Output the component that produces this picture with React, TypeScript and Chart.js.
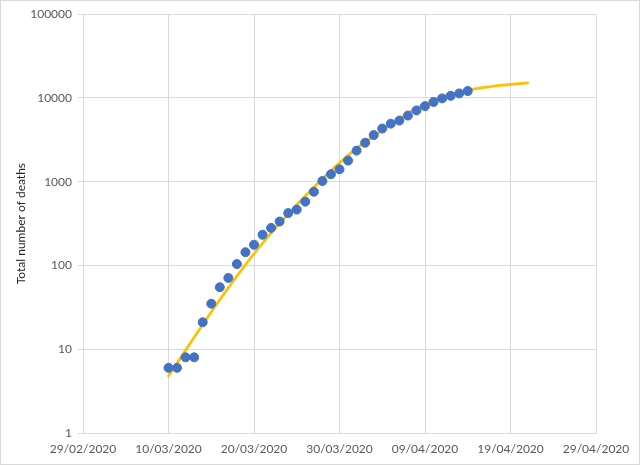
import React, { useEffect, useRef } from "react";
import { Chart, registerables } from "chart.js";

Chart.register(...registerables);

// Observed daily totals (10/03/2020 .. 14/04/2020)
const obsDates: string[] = [
  "10/03/2020", "11/03/2020", "12/03/2020", "13/03/2020", "14/03/2020", "15/03/2020",
  "16/03/2020", "17/03/2020", "18/03/2020", "19/03/2020", "20/03/2020", "21/03/2020",
  "22/03/2020", "23/03/2020", "24/03/2020", "25/03/2020", "26/03/2020", "27/03/2020",
  "28/03/2020", "29/03/2020", "30/03/2020", "31/03/2020", "01/04/2020", "02/04/2020",
  "03/04/2020", "04/04/2020", "05/04/2020", "06/04/2020", "07/04/2020", "08/04/2020",
  "09/04/2020", "10/04/2020", "11/04/2020", "12/04/2020", "13/04/2020", "14/04/2020",
];
const obsDeaths: number[] = [
  6, 6, 8, 8, 21, 35, 55, 71, 104, 144, 177, 233, 281, 335, 422, 465, 578, 759,
  1019, 1228, 1408, 1789, 2352, 2921, 3605, 4313, 4934, 5373, 6159, 7097, 7978,
  8958, 9875, 10612, 11329, 12107,
];

// Fitted curve
const fitDates: string[] = [
  "10/03/2020", "16/03/2020", "21/03/2020", "27/03/2020", "01/04/2020",
  "05/04/2020", "09/04/2020", "14/04/2020", "17/04/2020", "21/04/2020",
];
const fitValues: number[] = [4.8, 39, 185, 860, 2500, 4800, 8500, 12400, 13800, 15100];

const xTickLabels: string[] = [
  "29/02/2020", "10/03/2020", "20/03/2020", "30/03/2020", "09/04/2020", "19/04/2020", "29/04/2020",
];
const yTicks: number[] = [1, 10, 100, 1000, 10000, 100000];
const yTitle = "Total number of deaths";

const ORIGIN = Date.UTC(2020, 1, 29);
function dayOf(s: string): number {
  const [d, m, y] = s.split("/").map(Number);
  return Math.round((Date.UTC(y, m - 1, d) - ORIGIN) / 86400000);
}

export default function App() {
  const ref = useRef<HTMLCanvasElement | null>(null);

  useEffect(() => {
    document.body.style.margin = "0";
    const canvas = ref.current;
    if (!canvas) return;
    const tickFont = { family: "Lato, 'Liberation Sans', sans-serif", size: 12 };
    const chart = new Chart(canvas, {
      type: "scatter",
      data: {
        datasets: [
          {
            label: "Deaths",
            data: obsDates.map((d, i) => ({ x: dayOf(d), y: obsDeaths[i] })),
            backgroundColor: "#4472C4",
            borderColor: "#4472C4",
            borderWidth: 1,
            pointRadius: 4.5,
            showLine: false,
          },
          {
            label: "Fit",
            data: fitDates.map((d, i) => ({ x: dayOf(d), y: fitValues[i] })),
            borderColor: "#FFC000",
            backgroundColor: "#FFC000",
            borderWidth: 2.75,
            pointRadius: 0,
            showLine: true,
            cubicInterpolationMode: "monotone",
            borderCapStyle: "round",
          } as any,
        ],
      },
      options: {
        responsive: false,
        animation: false,
        events: [],
        layout: { padding: { top: 13, right: 43, left: 13, bottom: 0 } },
        plugins: { legend: { display: false }, tooltip: { enabled: false } },
        scales: {
          x: {
            type: "linear",
            min: 0,
            max: 60,
            afterBuildTicks: (axis: any) => {
              axis.ticks = xTickLabels.map((_, i) => ({ value: i * 10 }));
            },
            afterFit: (axis: any) => {
              axis.height = 465 - 434;
            },
            ticks: {
              color: "#595959",
              font: tickFont,
              padding: 9,
              maxRotation: 0,
              autoSkip: false,
              callback: (v: any) => xTickLabels[Math.round(Number(v) / 10)] ?? "",
            },
            grid: { color: "#D9D9D9", tickLength: 0, lineWidth: 1 },
            border: { color: "#D9D9D9" },
          },
          y: {
            type: "logarithmic",
            min: 1,
            max: 100000,
            afterBuildTicks: (axis: any) => {
              axis.ticks = yTicks.map((v) => ({ value: v }));
            },
            afterFit: (axis: any) => {
              axis.width = 69;
            },
            ticks: {
              color: "#595959",
              font: tickFont,
              padding: 6,
              autoSkip: false,
              callback: (v: any) => String(v),
            },
            title: {
              display: true,
              text: yTitle,
              color: "#262626",
              font: { family: "Lato, 'Liberation Sans', sans-serif", size: 12 },
              padding: { top: 0, bottom: 0 },
            },
            grid: { color: "#D9D9D9", tickLength: 5, lineWidth: 1 },
            border: { color: "#D9D9D9" },
          },
        },
      },
    } as any);
    return () => chart.destroy();
  }, []);

  return (
    <div
      style={{
        position: "absolute",
        left: 0,
        top: 0,
        width: 640,
        height: 465,
        boxSizing: "border-box",
        border: "1px solid #D9D9D9",
        background: "#fff",
        overflow: "hidden",
      }}
    >
      <canvas ref={ref} width={638} height={463} style={{ display: "block" }} />
    </div>
  );
}
